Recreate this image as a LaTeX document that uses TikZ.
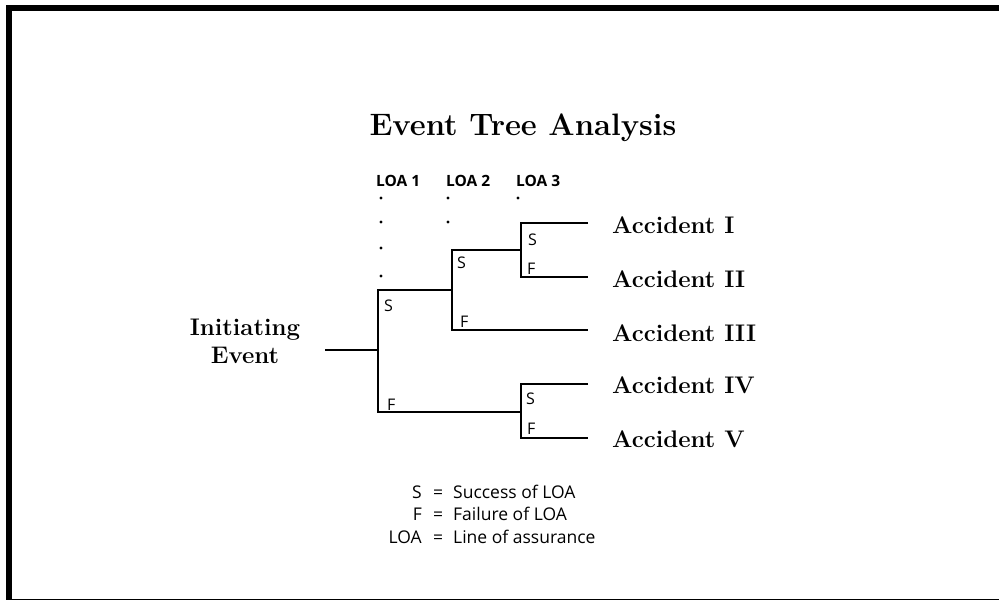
\documentclass[tikz,border=0pt]{standalone}
\usepackage{fontspec}
\newfontfamily\loafont{Open Sans}

\tikzset{
  branch/.style={line width=2.1pt},
  outcome/.style={font=\fontsize{24}{28}\selectfont\bfseries, anchor=base west, inner sep=0pt},
  sflabel/.style={font=\loafont\fontsize{16}{18}\selectfont, anchor=base west, inner sep=0pt},
  loahead/.style={font=\loafont\bfseries\fontsize{15.5}{18}\selectfont, anchor=base west, inner sep=0pt},
  keytext/.style={font=\loafont\fontsize{17.5}{20}\selectfont, inner sep=0pt},
}

\begin{document}
\begin{tikzpicture}[x=1pt, y=-1pt]
	\useasboundingbox (0,0) rectangle (999,600);
	% frame
	\fill (6,5) rectangle (999,11);
	\fill (6,5) rectangle (12,600);
	\draw[line width=1pt] (6,599.5) -- (999,599.5);

	\node[font=\fontsize{31}{36}\selectfont\bfseries, anchor=base, inner sep=0pt] (title) at (523,135) {Event Tree Analysis};

	% column heads and dots
	\node[loahead] (loa1) at (376,186) {LOA 1};
	\node[loahead] (loa2) at (446,186) {LOA 2};
	\node[loahead] (loa3) at (516,186) {LOA 3};
	\foreach \yy in {198,222,248,276} \fill (381,\yy) circle (1.6pt);
	\foreach \yy in {198,222} \fill (448,\yy) circle (1.6pt);
	\fill (518,198) circle (1.6pt);

	\node[font=\fontsize{24}{28}\selectfont\bfseries, align=center, inner sep=0pt] (init) at (245,341) {Initiating\\Event};

	% junction points
	\coordinate (ie) at (325,350);
	\coordinate (ja) at (378,350);
	\coordinate (jb) at (452,290);
	\coordinate (jc) at (521,250);
	\coordinate (jd) at (521,412);
	\coordinate (a2) at (378,412);
	\coordinate (b2) at (452,330);
	\coordinate (c2) at (521,277);
	\coordinate (d2) at (521,438);
	\coordinate (e1) at (588,223);
	\coordinate (e2) at (588,277);
	\coordinate (e3) at (588,330);
	\coordinate (e4) at (588,384);
	\coordinate (e5) at (588,438);

	\draw[branch] (ie) -- (ja);
	\draw[branch] (jb) -| (a2) -- (jd);
	\draw[branch] (jc) -| (b2) -- (e3);
	\draw[branch] (e1) -| (c2) -- (e2);
	\draw[branch] (e4) -| (d2) -- (e5);

	\node[sflabel] (s1) at (384,311) {S};
	\node[sflabel] (f1) at (387,410) {F};
	\node[sflabel] (s2) at (457,268) {S};
	\node[sflabel] (f2) at (460,327) {F};
	\node[sflabel] (s3) at (528,245) {S};
	\node[sflabel] (f3) at (527,274) {F};
	\node[sflabel] (s4) at (526,404) {S};
	\node[sflabel] (f4) at (527,434) {F};

	\foreach \numeral/\yy [count=\k] in {I/233, II/287, III/341, IV/393, V/447}
		\node[outcome] (acc\k) at (612,\yy) {Accident \numeral};

	% key
	\foreach \abbr/\desc/\yy [count=\k] in {S/Success of LOA/498, F/Failure of LOA/520, LOA/Line of assurance/543} {
		\node[keytext, anchor=base east] (abbr\k) at (422,\yy) {\abbr};
		\node[keytext, anchor=base] (eq\k) at (438,\yy) {=};
		\node[keytext, anchor=base west] (desc\k) at (453,\yy) {\desc};
	}
\end{tikzpicture}
\end{document}
